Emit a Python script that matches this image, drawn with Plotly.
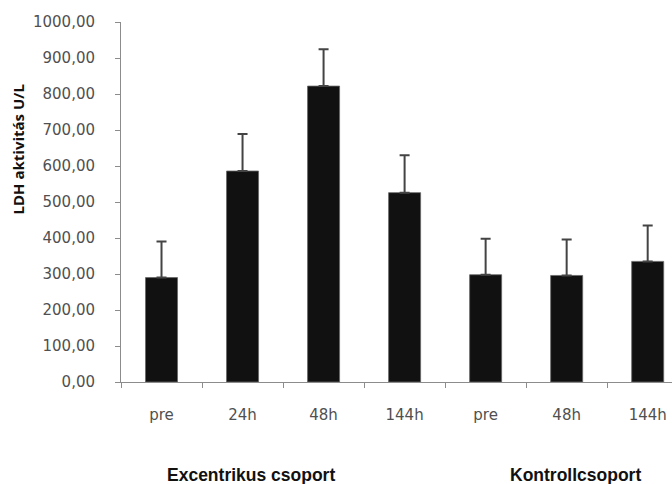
import plotly.graph_objects as go

# Data
tick_labels = ["pre", "24h", "48h", "144h", "pre", "48h", "144h"]
ldh_means = [290, 586, 822, 526, 298, 296, 335]
ldh_sd = [100, 103, 102, 104, 100, 100, 100]
group_labels = ["Excentrikus csoport", "Kontrollcsoport"]
y_title = "LDH aktivitás U/L"

x_pos = list(range(len(ldh_means)))
boundaries = [i - 0.5 for i in range(len(ldh_means) + 1)]

fig = go.Figure()
fig.add_trace(go.Bar(
    x=x_pos, y=ldh_means,
    width=0.395,
    marker=dict(color="#111111", line=dict(color="#666666", width=0.8)),
    error_y=dict(type="data", array=ldh_sd, arrayminus=[0] * len(ldh_sd),
                 symmetric=False, color="#444444", thickness=2, width=5),
    showlegend=False,
))
# invisible trace on the overlay axis for boundary ticks
fig.add_trace(go.Scatter(x=[boundaries[0]], y=[0], xaxis="x2", mode="markers",
                         marker=dict(opacity=0), showlegend=False, hoverinfo="skip"))

fig.update_layout(
    width=672, height=484,
    margin=dict(l=121, r=0, t=22, b=102),
    paper_bgcolor="white", plot_bgcolor="white",
    separators=",.",
    font=dict(family="DejaVu Sans", color="#505050", size=15),
    xaxis2=dict(overlaying="x", anchor="y", side="bottom", range=[-0.5, 6.3],
                tickmode="array", tickvals=boundaries, ticktext=[""] * len(boundaries),
                ticks="outside", ticklen=5, tickcolor="#8c8c8c", tickwidth=1,
                showgrid=False, zeroline=False, showline=False),
)

fig.layout.xaxis.update(
    range=[-0.5, 6.3],
    tickmode="array", tickvals=x_pos, ticktext=tick_labels,
    ticks="", showgrid=False, zeroline=False,
    showline=True, linecolor="#8c8c8c", linewidth=1,
    ticklabelstandoff=19,
    tickfont=dict(family="DejaVu Sans", size=15, color="#505050"),
)
fig.update_yaxes(
    range=[0, 1000], dtick=100, tick0=0, tickformat=".2f",
    ticks="outside", ticklen=5, tickcolor="#8c8c8c",
    showgrid=False, zeroline=False,
    showline=True, linecolor="#8c8c8c", linewidth=1,
    ticklabelstandoff=17,
    tickfont=dict(family="DejaVu Sans", size=15, color="#505050"),
)

fig.add_annotation(
    text=y_title, textangle=-90, xref="paper", yref="paper",
    x=-121 / 551 + 17.5 / 551, y=(382 - 150) / 360,
    xanchor="center", yanchor="middle", showarrow=False,
    font=dict(family="Open Sans", size=15, color="#111111", weight="bold"),
)
fig.add_annotation(
    text=group_labels[0], xref="paper", yref="paper", x=(251 - 121) / 551, y=-(475 - 382) / 360,
    xanchor="center", yanchor="middle", showarrow=False,
    font=dict(family="Liberation Sans", size=17.5, color="#111111", weight="bold"),
)
fig.add_annotation(
    text=group_labels[1], xref="paper", yref="paper", x=(575 - 121) / 551, y=-(475 - 382) / 360,
    xanchor="center", yanchor="middle", showarrow=False,
    font=dict(family="Liberation Sans", size=17.5, color="#111111", weight="bold"),
)

fig.write_html("out.html")
